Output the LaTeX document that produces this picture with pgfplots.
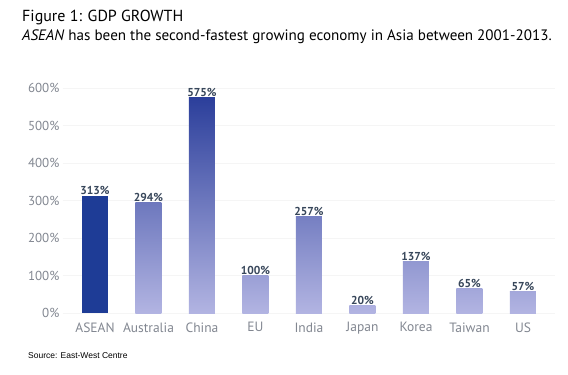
\documentclass[border=0pt]{standalone}
\usepackage{pgfplots}
\pgfplotsset{compat=1.18}
\usepackage{fontspec}
\setmainfont{PT Sans}
\newfontfamily\srcfont{Liberation Sans}
\definecolor{dark}{RGB}{38,58,152}
\definecolor{light}{RGB}{178,180,226}
\definecolor{aseanc}{RGB}{30,60,150}
\definecolor{lblc}{RGB}{55,70,90}
\definecolor{tickc}{RGB}{130,135,145}
\begin{document}
\begin{tikzpicture}[x=1pt,y=1pt]
\path[fill=white] (0,0) rectangle (568,375);
\node[anchor=base west, inner sep=0pt, font=\fontsize{16}{18}\selectfont] at (22,353) {Figure 1: GDP GROWTH};
\node[anchor=base west, inner sep=0pt, font=\fontsize{15.1}{17}\selectfont] at (22,334) {\textit{ASEAN} has been the second-fastest growing economy in Asia between 2001-2013.};
\node[anchor=base west, inner sep=0pt, font=\srcfont\fontsize{8.5}{10}\selectfont] at (28,16) {Source: East-West Centre};
\begin{axis}[
  at={(62.9pt,62pt)}, anchor=south west,
  scale only axis, width=492.2pt, height=232.5pt,
  xmin=-0.6, xmax=8.6, ymin=0, ymax=620,
  axis line style={draw=none},
  ytick={0,100,...,600},
  yticklabel={\pgfmathprintnumber{\tick}\%},
  yticklabel style={font=\fontsize{13}{15}\selectfont, text=tickc},
  /pgf/number format/assume math mode=true,
  xtick={0,...,8},
  xticklabels={ASEAN,Australia,China,EU,India,Japan,Korea,Taiwan,US},
  xticklabel style={font=\fontsize{13.5}{15}\selectfont, text=tickc, yshift=-6pt},
  major tick length=0pt,
  ymajorgrids, grid style={gray!8},
  clip=false,
  every node near coord/.append style={font=\fontsize{11.5}{13}\selectfont\bfseries, text=lblc, inner sep=1pt},
  nodes near coords={\pgfmathprintnumber{\pgfplotspointmeta}\%},
]
\pgfplotsset{bb/.style={ybar, bar width=26pt, bar shift=0pt, draw=none}}
\addplot[bb, fill=aseanc] coordinates {(0,313)};
\addplot[bb, top color=dark!49!light, bottom color=light] coordinates {(1,294)};
\addplot[bb, top color=dark!96!light, bottom color=light] coordinates {(2,575)};
\addplot[bb, top color=dark!17!light, bottom color=light] coordinates {(3,100)};
\addplot[bb, top color=dark!43!light, bottom color=light] coordinates {(4,257)};
\addplot[bb, top color=dark!4!light, bottom color=light] coordinates {(5,20)};
\addplot[bb, top color=dark!23!light, bottom color=light] coordinates {(6,137)};
\addplot[bb, top color=dark!11!light, bottom color=light] coordinates {(7,65)};
\addplot[bb, top color=dark!10!light, bottom color=light] coordinates {(8,57)};
\end{axis}
\end{tikzpicture}
\end{document}
